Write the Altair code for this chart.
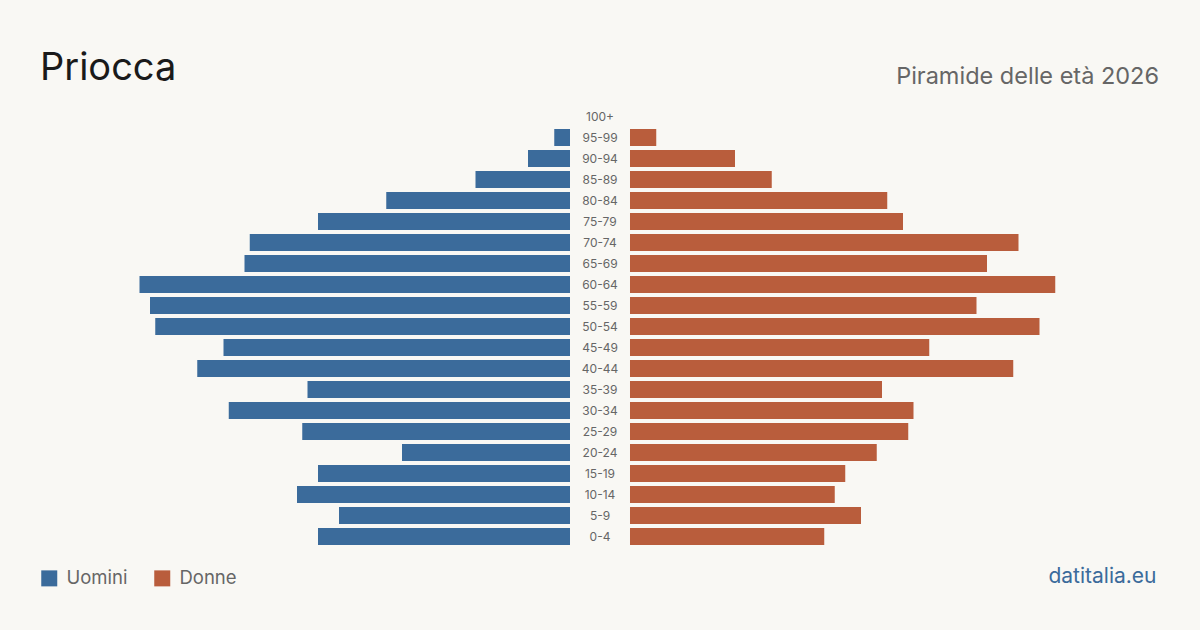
import altair as alt
import pandas as pd

# Population of Priocca by five-year age group, 2026
age_groups = ["0-4", "5-9", "10-14", "15-19", "20-24", "25-29", "30-34", "35-39",
              "40-44", "45-49", "50-54", "55-59", "60-64", "65-69", "70-74", "75-79",
              "80-84", "85-89", "90-94", "95-99", "100+"]
men = [48, 44, 52, 48, 32, 51, 65, 50, 71, 66, 79, 80, 82, 62, 61, 48, 35, 18, 8, 3, 0]
women = [37, 44, 39, 41, 47, 53, 54, 48, 73, 57, 78, 66, 81, 68, 74, 52, 49, 27, 20, 5, 0]

BLUE = "#3b6b9b"
ORANGE = "#b95d3c"
BG = "#f9f8f4"
GREY = "#666666"
FONT = "Inter"

# half of the gap in the middle reserved for the age labels, in persons
GAP = 5.714
XMAX = max(max(men), max(women)) + GAP

rows = []
for a, m, w in zip(age_groups, men, women):
    rows.append({"age": a, "sex": "Uomini", "value": m, "sign": -1})
    rows.append({"age": a, "sex": "Donne", "value": w, "sign": 1})
df = pd.DataFrame(rows)
labels = pd.DataFrame({"age": age_groups, "mid": [0] * len(age_groups)})

y_enc = alt.Y("age:N", sort=list(reversed(age_groups)),
              scale=alt.Scale(paddingInner=0.19, paddingOuter=0.095), axis=None)
x_scale = alt.Scale(domain=[-XMAX, XMAX], nice=False, zero=False)

bars = alt.Chart(df).transform_calculate(
    x0="datum.sign * " + str(GAP),
    x1="datum.sign * (" + str(GAP) + " + datum.value)",
).mark_bar(cornerRadius=0).encode(
    x=alt.X("x0:Q", scale=x_scale, axis=None),
    x2="x1:Q",
    y=y_enc,
    color=alt.Color(
        "sex:N",
        scale=alt.Scale(domain=["Uomini", "Donne"], range=[BLUE, ORANGE]),
        legend=alt.Legend(
            title=None, orient="none", direction="horizontal",
            legendX=-99.5, legendY=463,
            symbolType="square", symbolSize=256, symbolStrokeWidth=0,
            symbolOpacity=1,
            labelFont=FONT, labelFontSize=18.5, labelColor=GREY,
            labelOffset=8, columnPadding=25,
        ),
    ),
)

age_text = alt.Chart(labels).mark_text(
    font=FONT, fontSize=12, color=GREY, align="center", baseline="middle"
).encode(
    x=alt.X("mid:Q", scale=x_scale, axis=None),
    y=y_enc,
    text="age:N",
)

title = alt.Chart(pd.DataFrame({"t": ["Priocca"]})).mark_text(
    font=FONT, fontSize=38, color="#1a1a1a", align="left", baseline="alphabetic"
).encode(x=alt.value(-99.5), y=alt.value(-26), text="t:N")

subtitle = alt.Chart(pd.DataFrame({"t": ["Piramide delle età 2026"]})).mark_text(
    font=FONT, fontSize=23.5, color=GREY, align="right", baseline="alphabetic"
).encode(x=alt.value(1019.5), y=alt.value(-22), text="t:N")

source = alt.Chart(pd.DataFrame({"t": ["datitalia.eu"]})).mark_text(
    font=FONT, fontSize=21, color="#3b6b9b", align="right", baseline="alphabetic"
).encode(x=alt.value(1017), y=alt.value(477), text="t:N")

chart = alt.layer(bars, age_text, title, subtitle, source).properties(
    width=921,
    height=441,
    background=BG,
    autosize=alt.AutoSizeParams(type="none"),
    padding={"left": 139.5, "top": 106, "right": 139.5, "bottom": 83},
).configure_view(stroke=None)

chart.save("out.html", embed_options={"renderer": "svg", "actions": False})
